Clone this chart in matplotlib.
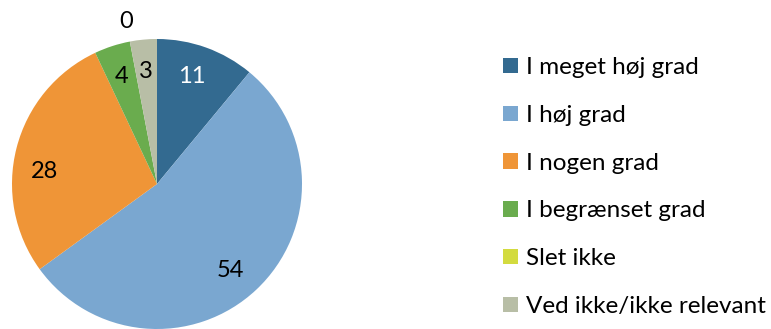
import numpy as np
import matplotlib.pyplot as plt

categories = ['I meget høj grad', 'I høj grad', 'I nogen grad',
              'I begrænset grad', 'Slet ikke', 'Ved ikke/ikke relevant']
values = [11, 54, 28, 4, 0, 3]
colors = ['#336a90', '#7aa7d0', '#ef9537', '#6aac4e', '#d3db3f', '#b8bea6']
label_colors = ['white', 'black', 'black', 'black', 'black', 'black']

plt.rcParams['font.family'] = ['Lato', 'DejaVu Sans']

fig = plt.figure(figsize=(7.71, 3.29), dpi=100)
ax = fig.add_axes([0, 0, 1, 1])

cx, cy, r = 157, 329 - 184, 145
wedges, _ = ax.pie(values, colors=colors, startangle=90, counterclock=False,
                   center=(cx, cy), radius=r, frame=True,
                   wedgeprops=dict(linewidth=0))
ax.set_xlim(0, 771)
ax.set_ylim(0, 329)
ax.set_aspect('equal')
ax.axis('off')

# value labels near the middle of each slice, empty slices pushed outside
total = sum(values)
ends = np.cumsum(values)
mids = 90 - (ends - np.array(values) / 2) / total * 360
nudge = [2, -3, 8, 0, 0, 0]
for v, a, n, c in zip(values, mids, nudge, label_colors):
    d = 0.78 if v > 0 else 1.14
    x = cx + d * r * np.cos(np.radians(a + n))
    y = cy + d * r * np.sin(np.radians(a + n))
    ax.text(x, y, str(v), ha='center', va='center', fontsize=17, color=c)

leg = ax.legend(wedges, categories, loc='upper left',
                bbox_to_anchor=(491 / 771, 1 - 45 / 329), frameon=False,
                fontsize=17.5, handlelength=0.6, handleheight=0.6,
                handletextpad=0.35, labelspacing=1.10, borderpad=0)
for h in leg.legend_handles:
    h.set_edgecolor('none')

fig.savefig('out.png', dpi=100)
